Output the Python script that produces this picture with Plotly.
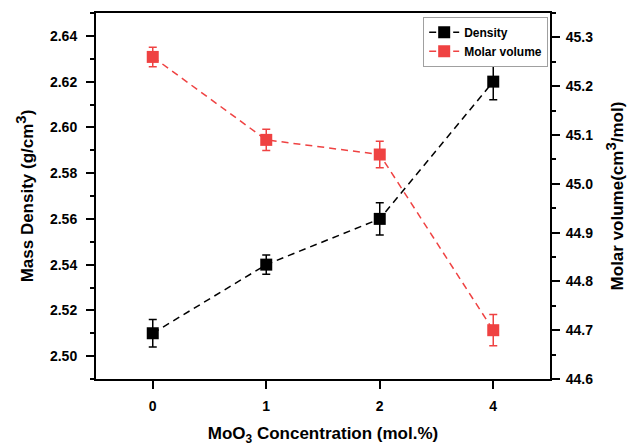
import plotly.graph_objects as go

concentration = ["0", "1", "2", "4"]
density = [2.51, 2.54, 2.56, 2.62]
density_err = [0.006, 0.0042, 0.0071, 0.0079]
molar_volume = [45.26, 45.09, 45.06, 44.70]
molar_volume_err = [0.02, 0.022, 0.027, 0.032]

RED = "#EF4242"
FONT = "Liberation Sans, Arial, sans-serif"

fig = go.Figure()
fig.add_trace(go.Scatter(
    x=concentration, y=density, name="Density",
    mode="lines+markers",
    line=dict(color="black", width=1.5, dash="7px,5px"),
    marker=dict(symbol="square", size=12, color="black"),
    error_y=dict(type="data", array=density_err, color="black", thickness=1.5, width=4),
    yaxis="y",
))
fig.add_trace(go.Scatter(
    x=concentration, y=molar_volume, name="Molar volume",
    mode="lines+markers",
    line=dict(color=RED, width=1.5, dash="7px,5px"),
    marker=dict(symbol="square", size=12, color=RED),
    error_y=dict(type="data", array=molar_volume_err, color=RED, thickness=1.5, width=4),
    yaxis="y2",
))

tickfont = dict(family=FONT, size=14, color="black", weight="bold")
titlefont = dict(family=FONT, size=17, color="black", weight="bold")
SUP3 = "<sup><span style='font-size:15px'>3</span></sup>"

fig.update_layout(
    width=630, height=446,
    margin=dict(l=96, r=80, t=13, b=67),
    paper_bgcolor="white", plot_bgcolor="white",
    showlegend=True,
    legend=dict(
        x=0.996, y=0.99, xanchor="right", yanchor="top",
        bordercolor="#a0a0a0", borderwidth=1, bgcolor="white",
        font=dict(family=FONT, size=12, color="black", weight="bold"),
        tracegroupgap=0, itemwidth=30,
    ),
    xaxis=dict(
        type="category", range=[-0.5, 3.5], automargin=False,
        showline=True, linecolor="black", linewidth=2, mirror=True,
        ticks="outside", ticklen=8, tickwidth=2, tickcolor="black",
        ticklabelstandoff=5,
        tickfont=tickfont, showgrid=False, zeroline=False,
        title=dict(text="MoO<sub>3</sub> Concentration (mol.%)", font=titlefont, standoff=16),
    ),
    yaxis=dict(
        range=[2.49, 2.65], dtick=0.02, tick0=2.5, tickformat=".2f", automargin=False,
        showline=True, linecolor="black", linewidth=2,
        ticks="outside", ticklen=8, tickwidth=2, tickcolor="black",
        ticklabelstandoff=6,
        minor=dict(dtick=0.01, tick0=2.5, ticks="outside", ticklen=4, tickwidth=2, tickcolor="black"),
        tickfont=tickfont, showgrid=False, zeroline=False,
        title=dict(text="Mass Density (g/cm" + SUP3 + ")", font=titlefont, standoff=12),
    ),
    yaxis2=dict(
        range=[44.6, 45.35], dtick=0.1, tick0=44.6, tickformat=".1f", automargin=False,
        overlaying="y", side="right",
        showline=True, linecolor="black", linewidth=2,
        ticks="outside", ticklen=8, tickwidth=2, tickcolor="black",
        ticklabelstandoff=3,
        minor=dict(dtick=0.05, tick0=44.6, ticks="outside", ticklen=4, tickwidth=2, tickcolor="black"),
        tickfont=tickfont, showgrid=False, zeroline=False,
        title=dict(text="Molar volume(cm" + SUP3 + "/mol)", font=titlefont, standoff=19),
    ),
)

fig.write_html("out.html")
